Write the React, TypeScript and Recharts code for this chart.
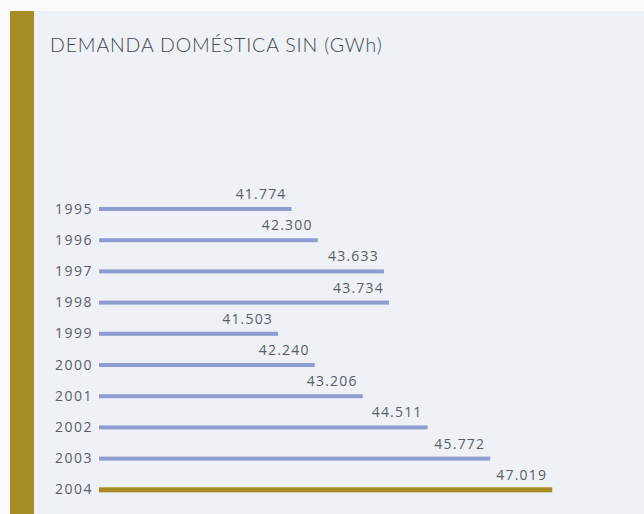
import React from "react";
import { BarChart, Bar, XAxis, YAxis, LabelList, Cell } from "recharts";

const years = ["1995", "1996", "1997", "1998", "1999", "2000", "2001", "2002", "2003", "2004"];
const demand = [41.774, 42.3, 43.633, 43.734, 41.503, 42.24, 43.206, 44.511, 45.772, 47.019];
const valueLabels = ["41.774", "42.300", "43.633", "43.734", "41.503", "42.240", "43.206", "44.511", "45.772", "47.019"];

const BLUE = "#8e9dd0";
const GOLD = "#a68c24";
const TEXT = "#5a5e64";

const data = years.map((year, i) => ({
  year,
  value: demand[i],
  label: valueLabels[i],
}));

const lastIndex = years.length - 1;

function ValueLabel(props: any) {
  const { x, y, width, height, index } = props;
  return (
    <text
      x={x + width - 5}
      y={y + height / 2 - 10}
      textAnchor="end"
      fontSize={14}
      letterSpacing={1.2}
      fill={TEXT}
      fontFamily="'Open Sans', sans-serif"
    >
      {valueLabels[index]}
    </text>
  );
}

function BarShape(props: any) {
  const { x, y, width, height, fill, index } = props;
  const extra = index === lastIndex ? 1 : 0;
  return <rect x={x} y={y - extra / 2} width={width} height={height + extra} fill={fill} />;
}

export default function App() {
  return (
    <div style={{ position: "absolute", left: 0, top: 0, width: 644, height: 514, background: "#fbfbfb", overflow: "hidden" }}>
      <div style={{ position: "absolute", left: 10, top: 11, width: 644, height: 514, background: "#eef1f6" }} />
      <div style={{ position: "absolute", left: 10, top: 11, width: 24, height: 514, background: GOLD }} />
      <div
        style={{
          position: "absolute",
          left: 50,
          top: 33,
          fontFamily: "Lato, sans-serif",
          fontWeight: 300,
          fontSize: 19.5,
          letterSpacing: 0.85,
          color: "#45484d",
          whiteSpace: "nowrap",
        }}
      >
        DEMANDA DOMÉSTICA SIN (GWh)
      </div>
      <div style={{ position: "absolute", left: 0, top: 0 }}>
        <BarChart
          width={644}
          height={514}
          data={data}
          layout="vertical"
          margin={{ top: 193, right: 43, bottom: 9, left: 0 }}
        >
          <XAxis type="number" domain={[37.9, 48]} hide />
          <YAxis
            type="category"
            dataKey="year"
            width={99}
            axisLine={false}
            tickLine={false}
            tickSize={0}
            tickMargin={6}
            tick={{ fontSize: 14, fill: TEXT, letterSpacing: 1.5, fontFamily: "'Open Sans', sans-serif" }}
          />
          <Bar dataKey="value" barSize={4} isAnimationActive={false} shape={BarShape}>
            {data.map((d, i) => (
              <Cell key={d.year} fill={i === lastIndex ? GOLD : BLUE} />
            ))}
            <LabelList dataKey="label" content={ValueLabel} />
          </Bar>
        </BarChart>
      </div>
    </div>
  );
}
